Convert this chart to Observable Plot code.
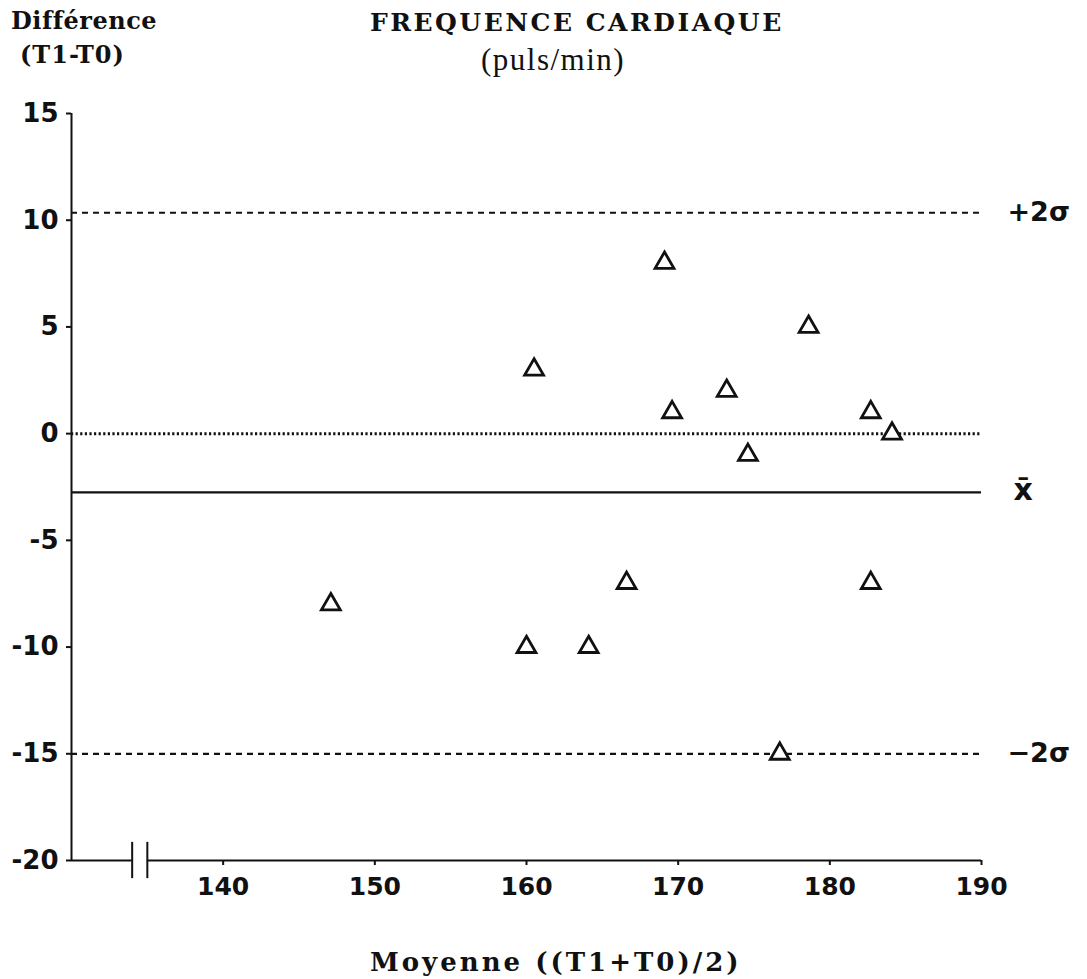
<!DOCTYPE html>
<html>
<head>
<meta charset="utf-8">
<script src="https://cdn.jsdelivr.net/npm/d3@7"></script>
<script src="https://cdn.jsdelivr.net/npm/@observablehq/plot@0.6"></script>
<style>
  html, body { margin: 0; padding: 0; background: #fff; }
  #wrap { position: relative; width: 1087px; height: 979px; overflow: hidden; background: #fff; }
  .hdr { position: relative; width: 1087px; height: 88px; }
  .ftr { position: relative; width: 1087px; height: 59px; }
  .t { position: absolute; white-space: nowrap; color: #111; line-height: 1; }
  .slab { font-family: "DejaVu Serif", serif; font-weight: bold; }
  #chart svg { display: block; }
</style>
</head>
<body>
<div id="wrap">
  <div class="hdr">
    <div class="t slab" style="left:11px; top:9px; font-size:24px; letter-spacing:0.5px;">Différence</div>
    <div class="t slab" style="left:20px; top:43px; font-size:24px; letter-spacing:1px;">(T1-T0)</div>
    <div class="t slab" style="left:370px; top:10px; font-size:25px; letter-spacing:2.5px;">FREQUENCE CARDIAQUE</div>
    <div class="t" style="left:481px; top:44px; font-size:31px; letter-spacing:1.5px; font-family:'Liberation Serif', serif;">(puls/min)</div>
  </div>
  <div id="chart"></div>
  <div class="ftr">
    <div class="t slab" style="left:370px; top:29px; font-size:26px; letter-spacing:3px;">Moyenne ((T1+T0)/2)</div>
  </div>
</div>
<script>
// Data
const moyenne    = [147.1, 160.5, 160.0, 164.1, 166.6, 169.1, 169.6, 173.2, 174.6, 178.6, 182.7, 184.1, 182.7, 176.7];
const difference = [-8,    3,     -10,   -10,   -7,    8,     1,     2,     -1,    5,     1,     0,     -7,    -15];

const refValues = [10.35, -2.75, -15.0];
const refLabels = ["+2σ", "x̄", "−2σ"];
const refStyles = ["dashed", "solid", "dashed"];
const zeroLine  = [0];

const xTicks = [140, 150, 160, 170, 180, 190];
const yTicks = [-20, -15, -10, -5, 0, 5, 10, 15];
const xDomain = [130, 190];
const yDomain = [-20, 15];
const xBreak = [134, 135];

const points = moyenne.map((m, i) => ({m, d: difference[i]}));
const refs = refValues.map((v, i) => ({v, label: refLabels[i], style: refStyles[i]}));
const axisSegments = [
  {x1: xDomain[0], x2: xBreak[0]},
  {x1: xBreak[1], x2: xDomain[1]}
];

const chart = Plot.plot({
  width: 1087,
  height: 832,
  marginLeft: 71,
  marginRight: 106,
  marginTop: 25,
  marginBottom: 60,
  x: {domain: xDomain},
  y: {domain: yDomain},
  style: {fontFamily: "DejaVu Sans, sans-serif", color: "#111", background: "#fff", overflow: "visible"},
  marks: [
    Plot.axisX({ticks: xTicks, tickSize: 5, tickPadding: 12, fontSize: 25, fontWeight: "bold", letterSpacing: 1.5, label: null, strokeWidth: 2, tickFormat: d => String(d)}),
    Plot.axisY({ticks: yTicks, tickSize: 5, tickPadding: 8, fontSize: 26, fontWeight: "bold", letterSpacing: 2, label: null, strokeWidth: 2, tickFormat: d => String(d)}),
    // y axis line
    Plot.ruleX([xDomain[0]], {y1: yDomain[0], y2: yDomain[1], strokeWidth: 2}),
    // x axis line with break
    Plot.ruleY(axisSegments, {y: yDomain[0], x1: "x1", x2: "x2", strokeWidth: 2}),
    Plot.ruleX(xBreak, {y1: yDomain[0] - 0.85, y2: yDomain[0] + 0.85, strokeWidth: 2}),
    // zero dotted line
    Plot.ruleY(zeroLine, {x1: xDomain[0], x2: xDomain[1], strokeWidth: 3, strokeDasharray: "2.2,2.4"}),
    // reference lines
    Plot.ruleY(refs.filter(r => r.style === "dashed"), {y: "v", x1: xDomain[0], x2: xDomain[1], strokeWidth: 2.2, strokeDasharray: "6,5"}),
    Plot.ruleY(refs.filter(r => r.style === "solid"), {y: "v", x1: xDomain[0], x2: xDomain[1], strokeWidth: 2.2}),
    Plot.text(refs.filter(r => r.style === "dashed"), {x: xDomain[1], y: "v", text: "label", dx: 26, textAnchor: "start", fontSize: 27, fontWeight: "bold", fontFamily: "DejaVu Sans, sans-serif", letterSpacing: 3}),
    Plot.text(refs.filter(r => r.style === "solid"), {x: xDomain[1], y: "v", text: "label", dx: 32, dy: -2, textAnchor: "start", fontSize: 30, fontWeight: "bold", fontFamily: "DejaVu Sans, sans-serif"}),
    // data points
    Plot.dot(points, {x: "m", y: "d", symbol: "triangle", r: 7, stroke: "#111", strokeWidth: 2.8, fill: "white"})
  ]
});
document.getElementById("chart").appendChild(chart);
</script>
</body>
</html>
